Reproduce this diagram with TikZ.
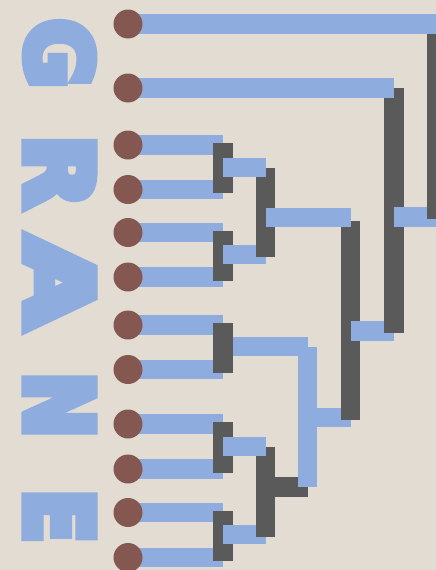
\documentclass[tikz,border=0pt]{standalone}
\usepackage{fontspec}
\usepackage{graphicx}
\usepackage{tikz}
\newfontfamily\gfont{DejaVu Sans}[BoldFeatures={FakeBold=10}]
\definecolor{bgbeige}{RGB}{226,220,210}
\definecolor{barblue}{RGB}{142,172,222}
\definecolor{bardark}{RGB}{90,90,90}
\definecolor{leafbrown}{RGB}{132,88,80}
\tikzset{
  bluebar/.style={line width=19.5pt,line cap=butt,color=barblue},
  darkbar/.style={line width=19.5pt,line cap=butt,color=bardark},
  leafdot/.style={circle,fill=leafbrown,inner sep=0pt,minimum size=29pt},
  letter/.style={rotate=-90,inner sep=0pt,text=barblue,font=\gfont\bfseries}
}

\begin{document}
\begin{tikzpicture}[x=1pt,y=-1pt]
  \useasboundingbox (0,0) rectangle (436,570);
  \fill[bgbeige] (0,0) rectangle (436,570);
  \clip (0,0) rectangle (436,570);
  % leaves and merge points
  \foreach \i/\y in {1/24,2/88,3/145,4/189.5,5/232.5,6/277,7/325,8/369.5,9/424,10/469,11/512.5,12/557.5}
    \coordinate (l\i) at (128,\y);
  \coordinate (m34) at (223,167.5);
  \coordinate (m56) at (223,254.5);
  \coordinate (m78) at (223,346.5);
  \coordinate (m910) at (223,446.5);
  \coordinate (m1112) at (223,534.5);
  \coordinate (m36) at (265.5,217.5);
  \coordinate (m912) at (265.5,487);
  \coordinate (m712) at (307.5,417.5);
  \coordinate (m312) at (350.5,331);
  \coordinate (m212) at (394,217);
  \coordinate (mall) at (437,120);
  % dendrogram
  \foreach \i in {3,...,12}
    \draw[bluebar] (l\i) -- (l\i -| m34);
  \draw[bluebar] (m78) -- (m78 -| m712);
  \foreach \a/\b/\m in {l3/l4/m34,l5/l6/m56,l7/l8/m78,l9/l10/m910,l11/l12/m1112}
    \draw[darkbar] ([yshift=2pt]\m |- \a) -- ([yshift=-3.5pt]\m |- \b);
  \draw[bluebar] (m56) -- (m56 -| m36);
  \draw[bluebar] (m1112) -- (m1112 -| m912);
  \draw[darkbar] (m36 |- m34) -- ([yshift=-2pt]m36 |- m56);
  \draw[darkbar] (m912 |- m910) -- ([yshift=-2pt]m912 |- m1112);
  \draw[bluebar] (m34) -- (m34 -| m36);
  \draw[bluebar] (m910) -- (m910 -| m912);
  \draw[darkbar] (m912) -- (m912 -| m712);
  \draw[bluebar] (m712 |- m78) -- (m712 |- m912);
  \draw[bluebar] (m712) -- (m712 -| m312);
  \draw[darkbar] ([yshift=-3pt]m312 |- m36) -- ([yshift=-2.5pt]m312 |- m712);
  \draw[bluebar] (m36) -- (m36 -| m312);
  \draw[bluebar] (m312) -- (m312 -| m212);
  \draw[darkbar] (m212 |- l2) -- ([yshift=-2pt]m212 |- m312);
  \draw[bluebar] (l2) -- (l2 -| m212);
  \draw[bluebar] (m212) -- (m212 -| mall);
  \draw[darkbar] (mall |- l1) -- ([yshift=-2pt]mall |- m212);
  \draw[bluebar] (l1) -- (l1 -| mall);
  \foreach \i in {1,...,12}
    \node[leafdot] (d\i) at (l\i) {};
  % title
  \node[letter] (tG) at (59.5,53.5) {\resizebox*{69pt}{67pt}{G}};
  \node[letter] (tR) at (59.5,171.5) {\resizebox*{73pt}{67pt}{R}};
  \node[letter] (tA) at (59.5,282.5) {\resizebox*{91pt}{67pt}{A}};
  \node[letter] (tN) at (59.5,405) {\resizebox*{66pt}{67pt}{N}};
  \node[letter] (tE) at (59.5,516) {\resizebox*{54pt}{67pt}{E}};
\end{tikzpicture}
\end{document}
